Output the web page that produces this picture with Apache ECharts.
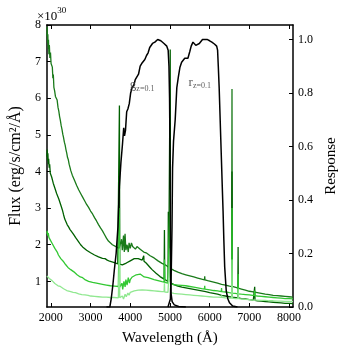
<!DOCTYPE html>
<html>
<head>
<meta charset="utf-8">
<script src="https://cdn.jsdelivr.net/npm/echarts@6/dist/echarts.min.js"></script>
<style>html,body{margin:0;padding:0;background:#fff}#c{width:348px;height:360px}</style>
</head>
<body>
<div id="c"></div>
<script>
// ---- data ----
var xTicks = [2000,3000,4000,5000,6000,7000,8000];
var fluxTicks = [1,2,3,4,5,6,7,8];
var respTicks = [0,0.2,0.4,0.6,0.8,1.0];
var filterNames = ['g','r'];
var filterSub = 'z=0.1';

var specA = [[1900,7.7],[1908,7.95],[1916,7.5],[1924,7.75],[1932,7.35],[1940,7.6],[1950,7.2],[1962,7.45],[1975,7.1],[1990,7.25],[2005,6.95],[2020,7.0],[2037,6.85],[2050,6.55],[2062,6.65],[2076,6.3],[2095,6.2],[2115,6.05],[2135,6.1],[2158,5.95],[2180,5.75],[2200,5.65],[2220,5.5],[2238,5.4],[2260,5.25],[2280,5.15],[2300,5.02],[2317,4.94],[2340,4.8],[2360,4.72],[2380,4.6],[2400,4.5],[2420,4.38],[2440,4.32],[2460,4.2],[2480,4.12],[2500,4.03],[2525,4.05],[2540,3.9],[2560,3.86],[2600,3.75],[2650,3.62],[2700,3.5],[2750,3.4],[2800,3.3],[2850,3.2],[2900,3.1],[2950,3.02],[3000,2.92],[3050,2.84],[3100,2.74],[3150,2.65],[3200,2.55],[3250,2.46],[3300,2.38],[3350,2.28],[3400,2.18],[3450,2.1],[3500,2.05],[3550,2.0],[3600,1.97],[3650,1.94],[3700,1.92],[3720,1.9],[3760,1.95],[3780,2.15],[3800,1.85],[3830,2.25],[3850,1.8],[3869,2.3],[3890,1.85],[3920,2.0],[3950,1.8],[3970,2.05],[4000,1.9],[4030,2.05],[4060,1.95],[4100,2.0],[4130,1.88],[4170,1.95],[4200,1.9],[4250,1.88],[4300,1.85],[4340,1.8],[4400,1.78],[4450,1.74],[4500,1.7],[4550,1.68],[4600,1.64],[4650,1.6],[4700,1.56],[4750,1.52],[4800,1.49],[4850,1.46],[4900,1.44],[4950,1.4],[5000,1.36],[5050,1.33],[5100,1.3],[5150,1.27],[5200,1.25],[5300,1.21],[5400,1.18],[5500,1.15],[5600,1.12],[5700,1.09],[5800,1.06],[5850,1.05],[5870,1.04],[5876,1.14],[5882,1.04],[5950,1.02],[6000,1.0],[6100,0.98],[6200,0.95],[6250,0.94],[6300,0.92],[6400,0.9],[6500,0.87],[6555,0.86],[6563,6.25],[6571,0.86],[6600,0.85],[6700,0.82],[6800,0.79],[6900,0.76],[7000,0.73],[7100,0.71],[7200,0.69],[7300,0.67],[7400,0.65],[7500,0.64],[7600,0.62],[7700,0.61],[7800,0.6],[7900,0.59],[8000,0.58],[8100,0.57]];

var specB = [[1900,4.4],[1908,4.6],[1916,4.3],[1925,4.5],[1935,4.2],[1945,4.35],[1958,4.1],[1970,4.2],[1985,3.95],[2000,4.0],[2020,3.85],[2040,3.8],[2060,3.68],[2080,3.65],[2100,3.55],[2120,3.5],[2145,3.4],[2170,3.35],[2200,3.25],[2238,3.2],[2260,3.05],[2290,2.95],[2320,2.82],[2350,2.7],[2380,2.65],[2410,2.55],[2430,2.6],[2450,2.48],[2480,2.42],[2510,2.38],[2540,2.33],[2580,2.27],[2620,2.2],[2660,2.15],[2700,2.08],[2720,2.1],[2750,2.0],[2780,1.96],[2800,1.94],[2850,1.9],[2900,1.85],[2950,1.82],[3000,1.78],[3050,1.76],[3100,1.72],[3150,1.7],[3200,1.67],[3250,1.65],[3300,1.63],[3364,1.62],[3420,1.58],[3480,1.55],[3540,1.53],[3600,1.51],[3650,1.49],[3685,1.48],[3719,1.47],[3727,5.8],[3735,1.47],[3760,1.46],[3800,1.45],[3850,1.46],[3900,1.5],[3950,1.53],[4000,1.56],[4050,1.6],[4100,1.62],[4150,1.64],[4200,1.62],[4250,1.6],[4300,1.58],[4334,1.56],[4340,1.7],[4346,1.55],[4400,1.5],[4450,1.44],[4500,1.38],[4550,1.32],[4600,1.27],[4650,1.22],[4700,1.17],[4750,1.13],[4800,1.09],[4853,1.06],[4861,2.4],[4869,1.05],[4900,1.02],[4951,1.0],[4959,2.9],[4967,0.99],[4999,0.97],[5007,7.33],[5015,0.96],[5050,0.94],[5100,0.91],[5150,0.89],[5200,0.87],[5300,0.84],[5400,0.82],[5500,0.8],[5600,0.78],[5700,0.76],[5800,0.74],[5900,0.72],[6000,0.69],[6100,0.67],[6200,0.65],[6300,0.62],[6400,0.6],[6500,0.58],[6555,0.57],[6563,4.0],[6571,0.57],[6600,0.56],[6709,0.55],[6717,1.94],[6725,0.55],[6800,0.53],[6900,0.52],[7000,0.5],[7100,0.49],[7127,0.48],[7135,0.85],[7143,0.48],[7200,0.47],[7300,0.46],[7400,0.45],[7500,0.44],[7600,0.43],[7700,0.42],[7800,0.41],[7900,0.4],[8000,0.4],[8100,0.39]];

var specC = [[1900,2.3],[1910,2.38],[1920,2.25],[1935,2.32],[1950,2.2],[1970,2.25],[1990,2.12],[2010,2.15],[2040,2.02],[2070,1.98],[2100,1.9],[2130,1.85],[2160,1.8],[2190,1.72],[2220,1.68],[2250,1.62],[2280,1.58],[2310,1.55],[2340,1.5],[2370,1.46],[2400,1.42],[2430,1.38],[2460,1.36],[2500,1.32],[2540,1.28],[2580,1.26],[2620,1.22],[2660,1.18],[2700,1.15],[2740,1.12],[2780,1.09],[2800,1.1],[2830,1.06],[2870,1.04],[2900,1.02],[2950,1.0],[3000,0.99],[3050,0.97],[3100,0.96],[3150,0.95],[3200,0.94],[3300,0.92],[3400,0.9],[3500,0.88],[3600,0.87],[3700,0.86],[3719,0.85],[3727,3.0],[3735,0.84],[3760,0.8],[3790,0.95],[3810,0.78],[3840,1.0],[3870,0.85],[3890,1.05],[3920,0.9],[3950,1.1],[3980,0.95],[4000,1.05],[4050,1.12],[4100,1.1],[4150,1.18],[4200,1.15],[4250,1.2],[4300,1.16],[4350,1.12],[4400,1.14],[4450,1.1],[4500,1.08],[4600,1.05],[4700,1.02],[4800,0.99],[4853,0.98],[4861,1.6],[4869,0.97],[4950,0.95],[4999,0.94],[5007,3.5],[5015,0.93],[5100,0.91],[5200,0.9],[5300,0.89],[5400,0.88],[5500,0.86],[5600,0.84],[5700,0.82],[5800,0.8],[5870,0.79],[5876,0.88],[5882,0.79],[6000,0.77],[6100,0.75],[6200,0.74],[6294,0.72],[6300,0.82],[6306,0.72],[6400,0.71],[6500,0.69],[6555,0.68],[6563,3.0],[6571,0.68],[6650,0.67],[6709,0.66],[6717,1.2],[6725,0.66],[6800,0.65],[6900,0.64],[7000,0.63],[7127,0.61],[7135,0.75],[7143,0.61],[7200,0.6],[7300,0.59],[7400,0.58],[7500,0.57],[7600,0.56],[7700,0.55],[7800,0.54],[7900,0.53],[8000,0.53],[8100,0.52]];

var specD = [[1900,1.15],[1910,1.2],[1925,1.12],[1940,1.16],[1960,1.08],[1980,1.1],[2000,1.05],[2030,1.02],[2060,0.98],[2100,0.94],[2140,0.91],[2180,0.88],[2238,0.86],[2280,0.82],[2320,0.8],[2360,0.77],[2400,0.75],[2450,0.73],[2500,0.72],[2560,0.7],[2620,0.69],[2700,0.66],[2780,0.64],[2860,0.63],[2940,0.62],[3000,0.6],[3100,0.59],[3200,0.58],[3300,0.57],[3400,0.57],[3500,0.56],[3600,0.56],[3700,0.55],[3719,0.55],[3727,1.9],[3735,0.55],[3770,0.5],[3800,0.6],[3830,0.52],[3870,0.65],[3900,0.58],[3940,0.68],[3970,0.62],[4000,0.7],[4050,0.72],[4100,0.74],[4150,0.73],[4200,0.76],[4250,0.75],[4300,0.77],[4350,0.75],[4400,0.76],[4500,0.75],[4600,0.74],[4700,0.73],[4800,0.72],[4853,0.72],[4861,0.95],[4869,0.71],[4950,0.7],[4999,0.7],[5007,1.9],[5015,0.69],[5100,0.67],[5200,0.66],[5300,0.65],[5400,0.64],[5500,0.63],[5600,0.62],[5700,0.61],[5800,0.6],[5900,0.59],[6000,0.58],[6100,0.57],[6200,0.57],[6294,0.56],[6300,0.62],[6306,0.56],[6400,0.55],[6500,0.54],[6555,0.54],[6563,1.6],[6571,0.54],[6650,0.53],[6709,0.53],[6717,0.8],[6725,0.53],[6800,0.52],[6900,0.51],[7000,0.5],[7100,0.49],[7200,0.49],[7300,0.48],[7400,0.48],[7500,0.47],[7600,0.47],[7700,0.46],[7800,0.46],[7900,0.45],[8000,0.45],[8100,0.45]];

var respG = [[3400,0],[3485,0],[3520,0.03],[3564,0.085],[3600,0.14],[3644,0.2],[3690,0.3],[3726,0.45],[3765,0.54],[3805,0.61],[3835,0.67],[3855,0.64],[3880,0.66],[3910,0.73],[3940,0.74],[3975,0.76],[4010,0.8],[4047,0.82],[4090,0.83],[4126,0.85],[4208,0.87],[4250,0.9],[4288,0.91],[4330,0.915],[4367,0.925],[4410,0.94],[4450,0.95],[4490,0.97],[4529,0.975],[4560,0.985],[4590,0.98],[4620,0.99],[4660,0.995],[4691,1.0],[4730,1.0],[4770,0.995],[4850,0.985],[4920,0.975],[4955,0.96],[4975,0.9],[4990,0.78],[5003,0.55],[5010,0.3],[5016,0.13],[5028,0.05],[5055,0.02],[5110,0.008],[5220,0.002],[5400,0]];

var respR = [[4950,0],[4995,0],[5011,0.03],[5035,0.15],[5052,0.3],[5066,0.52],[5090,0.62],[5132,0.7],[5173,0.82],[5212,0.86],[5250,0.895],[5294,0.915],[5373,0.93],[5453,0.93],[5500,0.955],[5535,0.975],[5580,0.99],[5614,0.99],[5650,0.978],[5694,0.975],[5740,0.985],[5774,0.99],[5820,1.0],[5856,1.0],[5935,1.0],[6000,0.995],[6056,0.99],[6120,0.983],[6177,0.975],[6200,0.96],[6218,0.9],[6240,0.82],[6259,0.73],[6280,0.63],[6297,0.55],[6318,0.45],[6338,0.36],[6358,0.25],[6379,0.15],[6418,0.06],[6460,0.03],[6500,0.016],[6580,0.004],[6700,0]];

// ---- chart ----
var FONT = 'Liberation Serif';
var chart = echarts.init(document.getElementById('c'), null, {renderer: 'canvas'});

function specSeries(d, color) {
  return {type: 'line', data: d, xAxisIndex: 0, yAxisIndex: 0, showSymbol: false, symbol: 'none',
    lineStyle: {color: color, width: 1.3}, clip: true, z: 2, silent: true};
}
function respSeries(d) {
  return {type: 'line', data: d, xAxisIndex: 0, yAxisIndex: 1, showSymbol: false, symbol: 'none',
    lineStyle: {color: '#000', width: 1.5}, clip: true, z: 3, silent: true};
}
function labelSeries(name, x, y) {
  return {type: 'scatter', xAxisIndex: 0, yAxisIndex: 1, symbolSize: 0, data: [[x, y]], z: 4, silent: true,
    label: {show: true, position: 'right', distance: 0,
      formatter: '{m|' + name + '}{s|' + filterSub + '}',
      rich: {
        m: {fontFamily: FONT, fontSize: 13, color: '#333', verticalAlign: 'top', lineHeight: 13},
        s: {fontFamily: FONT, fontSize: 8, color: '#333', verticalAlign: 'top', lineHeight: 8, padding: [6, 0, 0, 0]}
      }}};
}

var axisLineStyle = {color: '#000', width: 1.5};
var option = {
  animation: false,
  backgroundColor: '#fff',
  grid: {left: 36, right: 55, top: 25, bottom: 53, containLabel: false},
  xAxis: [
    {type: 'value', min: 1900, max: 8100, position: 'bottom',
      axisLine: {show: true, onZero: false, lineStyle: axisLineStyle},
      axisTick: {show: true, inside: true, length: 4, customValues: xTicks, lineStyle: {color: '#000', width: 1}},
      axisLabel: {show: true, customValues: xTicks, fontFamily: FONT, fontSize: 12, color: '#000', margin: 5,
        formatter: function (v) { return String(v); }},
      splitLine: {show: false},
      name: 'Wavelength (Å)', nameLocation: 'middle', nameGap: 24,
      nameTextStyle: {fontFamily: FONT, fontSize: 15, color: '#000'}},
    {type: 'value', min: 1900, max: 8100, position: 'top',
      axisLine: {show: true, onZero: false, lineStyle: axisLineStyle},
      axisTick: {show: true, inside: true, length: 4, customValues: xTicks, lineStyle: {color: '#000', width: 1}},
      axisLabel: {show: false}, splitLine: {show: false}}
  ],
  yAxis: [
    {type: 'value', min: 0.3, max: 8, position: 'left',
      axisLine: {show: true, onZero: false, lineStyle: axisLineStyle},
      axisTick: {show: true, inside: true, length: 4, customValues: fluxTicks, lineStyle: {color: '#000', width: 1}},
      axisLabel: {show: true, customValues: fluxTicks, fontFamily: FONT, fontSize: 12, color: '#000', margin: 6},
      splitLine: {show: false},
      name: 'Flux (erg/s/cm²/Å)', nameLocation: 'middle', nameGap: 17, nameRotate: 90,
      nameTextStyle: {fontFamily: FONT, fontSize: 16, color: '#000'}},
    {type: 'value', min: 0, max: 1.054, position: 'right',
      axisLine: {show: true, onZero: false, lineStyle: axisLineStyle},
      axisTick: {show: true, inside: true, length: 4, customValues: respTicks, lineStyle: {color: '#000', width: 1}},
      axisLabel: {show: true, customValues: respTicks, fontFamily: FONT, fontSize: 12, color: '#000', margin: 5,
        formatter: function (v) { return v.toFixed(1); }},
      splitLine: {show: false},
      name: 'Response', nameLocation: 'middle', nameGap: 25, nameRotate: 90,
      nameTextStyle: {fontFamily: FONT, fontSize: 15, color: '#000'}}
  ],
  graphic: [{
    type: 'text', left: 37, top: 6, z: 10,
    style: {text: '{m|×10}{s|30}', fill: '#000',
      rich: {m: {fontFamily: FONT, fontSize: 13, verticalAlign: 'top', padding: [4, 0, 0, 0]},
             s: {fontFamily: FONT, fontSize: 9, verticalAlign: 'top'}}}
  }],
  series: [
    specSeries(specA, '#1a7a1a'),
    specSeries(specB, '#006000'),
    specSeries(specC, '#32c832'),
    specSeries(specD, '#90e890'),
    respSeries(respG),
    respSeries(respR),
    labelSeries(filterNames[0], 3990, 0.83),
    labelSeries(filterNames[1], 5470, 0.84)
  ]
};
chart.setOption(option);
</script>
</body>
</html>
